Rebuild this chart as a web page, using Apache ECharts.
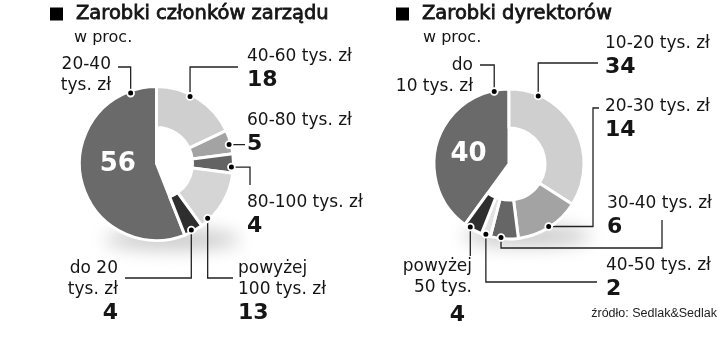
<!DOCTYPE html>
<html><head><meta charset="utf-8">
<script src="https://cdn.jsdelivr.net/npm/echarts@6/dist/echarts.min.js"></script>
<style>html,body{margin:0;padding:0;background:#fff}#c{width:720px;height:361px}</style>
</head><body><div id="c"></div>
<script>
// ---- data ----
const boardCategories = ['40-60 tys. zł', '60-80 tys. zł', '80-100 tys. zł', 'powyżej 100 tys. zł', 'do 20 tys. zł', '20-40 tys. zł'];
const boardLabels = ['40-60 tys. zł', '60-80 tys. zł', '80-100 tys. zł', 'powyżej\n100 tys. zł', 'do 20\ntys. zł', '20-40\ntys. zł'];
const boardValues = [18, 5, 4, 13, 4, 56];

const directorCategories = ['10-20 tys. zł', '20-30 tys. zł', '30-40 tys. zł', '40-50 tys. zł', 'powyżej 50 tys.', 'do 10 tys. zł'];
const directorLabels = ['10-20 tys. zł', '20-30 tys. zł', '30-40 tys. zł', '40-50 tys. zł', 'powyżej\n50 tys.', 'do\n10 tys. zł'];
const directorValues = [34, 14, 6, 2, 4, 40];

const chartTitles = ['Zarobki członków zarządu', 'Zarobki dyrektorów'];
const unitLabel = 'w proc.';
const sourceLabel = 'źródło: Sedlak&Sedlak';

// ---- styling / layout ----
const FONT = 'DejaVu Sans';
const INK = '#151515';
const panels = [
  {
    cats: boardCategories, labels: boardLabels, values: boardValues,
    colors: ['#cfcfcf', '#a3a3a3', '#636363', '#d5d5d5', '#2e2e2e', '#6a6a6a'],
    big: 5, center: [156.5, 163.5], R: 77, r: 36, dotR: 75,
    anchor: [0.41, 0.59, 0.69, 0.85, 0.58, 0.90],
    labelPos: [[247, 46, 'left'], [247, 110, 'left'], [247, 192, 'left'], [238, 258, 'left'], [118, 258, 'right'], [111, 54, 'right']],
    routes: [[['v', 67], ['h', 238]], [['h', 245]], [['h', 250], ['v', 185]], [['v', 278], ['h', 233]], [['v', 278], ['h', 125]], [['v', 67], ['h', 118]]],
    bigOffset: [2, -7],
    shadow: [16, 76, 68, 10]
  },
  {
    cats: directorCategories, labels: directorLabels, values: directorValues,
    colors: ['#cfcfcf', '#a3a3a3', '#666666', '#e2e2e2', '#2e2e2e', '#6a6a6a'],
    big: 5, center: [509, 164], R: 75, r: 36, dotR: 74,
    anchor: [0.19, 0.50, 0.62, 0.53, 0.69, 0.92],
    labelPos: [[605, 33, 'left'], [605, 96, 'left'], [607, 193, 'left'], [606, 255, 'left'], [472, 256, 'right'], [473, 55, 'right']],
    routes: [[['v', 63], ['h', 598]], [['h', 593], ['v', 108], ['h', 599]], [['v', 248], ['h', 662], ['v', 220]], [['v', 282], ['h', 597]], [['v', 256]], [['v', 65], ['h', 480]]],
    bigOffset: [-2, 3],
    shadow: [18, 72, 64, 10]
  }
];

function dotPoints(P) {
  const total = P.values.reduce((a, b) => a + b, 0);
  let acc = 0;
  return P.values.map((v, i) => {
    const frac = (acc + P.anchor[i] * v) / total;
    acc += v;
    const t = frac * 2 * Math.PI;
    return [P.center[0] + P.dotR * Math.sin(t), P.center[1] - P.dotR * Math.cos(t)];
  });
}

const series = [];
const graphics = [];
const FAR = 1500;
panels.forEach((P, pi) => {
  const dots = dotPoints(P);
  // full-radius series carrying the big slice
  series.push({
    type: 'pie', center: P.center, radius: [0, P.R], silent: true, animation: false,
    startAngle: 90, clockwise: true, avoidLabelOverlap: false,
    data: P.values.map((v, i) => i === P.big ? {
      name: P.cats[i], value: v,
      itemStyle: { color: P.colors[i], borderColor: '#fff', borderWidth: 3 },
      label: { show: true, position: 'inside', formatter: '{c}', offset: P.bigOffset,
        color: '#fff', fontFamily: FONT, fontWeight: 'bold', fontSize: 26 }
    } : {
      name: P.cats[i], value: v,
      itemStyle: { color: 'rgba(0,0,0,0)', borderWidth: 0 }, label: { show: false }, labelLine: { show: false }
    })
  });
  // ring series
  series.push({
    type: 'pie', center: P.center, radius: [P.r, P.R], silent: true, animation: false,
    startAngle: 90, clockwise: true, avoidLabelOverlap: false,
    label: {
      show: true, position: 'outside',
      formatter: (p) => {
        const lines = P.labels[p.dataIndex].split('\n').map(s => '{n|' + s + '}');
        if (p.dataIndex !== P.big) {
          const extra = (pi === 1 && p.dataIndex === 4) ? 'w' : 'v';
          lines.push('{' + extra + '|' + p.value + '}');
        }
        return lines.join('\n');
      },
      rich: {
        n: { fontFamily: FONT, fontSize: 17, lineHeight: 21, color: INK },
        v: { fontFamily: FONT, fontSize: 22, fontWeight: 'bold', lineHeight: 26, color: INK },
        w: { fontFamily: FONT, fontSize: 22, fontWeight: 'bold', lineHeight: 34, color: INK, padding: [0, 7, 0, 0] }
      }
    },
    labelLine: { show: true, lineStyle: { color: '#222', width: 1.3 } },
    labelLayout: (p) => {
      const i = p.dataIndex;
      const lp = P.labelPos[i];
      let cur = dots[i].slice();
      const pts = [cur];
      P.routes[i].forEach(([dir, val]) => {
        cur = dir === 'v' ? [cur[0], val] : [val, cur[1]];
        pts.push(cur);
      });
      return { x: lp[0], y: lp[1], align: lp[2], verticalAlign: 'top', labelLinePoints: pts };
    },
    data: P.values.map((v, i) => ({
      name: P.cats[i], value: v,
      itemStyle: i === P.big ? { color: 'rgba(0,0,0,0)', borderWidth: 0 }
                             : { color: P.colors[i], borderColor: '#fff', borderWidth: 3 }
    }))
  });
  // soft shadow under the donut (shape drawn off-canvas, only its blurred shadow shows)
  graphics.push({
    type: 'ellipse', z: -10, silent: true,
    shape: { cx: P.center[0] + P.shadow[0] - FAR, cy: P.center[1] + P.shadow[1], rx: P.shadow[2], ry: P.shadow[3] },
    style: { fill: '#000', shadowBlur: 18, shadowColor: 'rgba(0,0,0,0.22)', shadowOffsetX: FAR, shadowOffsetY: 0 }
  });
  // leader-line dots
  dots.forEach(d => graphics.push({
    type: 'circle', z: 100, silent: true,
    shape: { cx: d[0], cy: d[1], r: 3.4 },
    style: { fill: '#000', stroke: '#fff', lineWidth: 1.8 }
  }));
});

const titleRich = {
  sq: { width: 13, height: 13, backgroundColor: '#000' },
  gap: { width: 13 }
};
const titleStyle = { fontFamily: FONT, fontSize: 19.5, fontWeight: 'normal', color: INK, textBorderColor: INK, textBorderWidth: 0.8, rich: titleRich };
const option = {
  animation: false,
  title: [
    { text: '{sq| }{gap| }' + chartTitles[0], left: 50, top: 4, padding: 0, textStyle: titleStyle },
    { text: '{sq| }{gap| }' + chartTitles[1], left: 396, top: 4, padding: 0, textStyle: titleStyle },
    { text: unitLabel, left: 74, top: 30, padding: 0,
      textStyle: { fontFamily: FONT, fontSize: 16, fontWeight: 'normal', color: INK } },
    { text: unitLabel, left: 423, top: 30, padding: 0,
      textStyle: { fontFamily: FONT, fontSize: 16, fontWeight: 'normal', color: INK } },
    { text: sourceLabel, right: 3, top: 307, padding: 0,
      textStyle: { fontFamily: 'Liberation Sans', fontSize: 12.5, fontWeight: 'normal', color: '#222' } }
  ],
  graphic: { elements: graphics },
  series: series
};
const chart = echarts.init(document.getElementById('c'), null, { renderer: 'canvas' });
chart.setOption(option);
</script></body></html>
